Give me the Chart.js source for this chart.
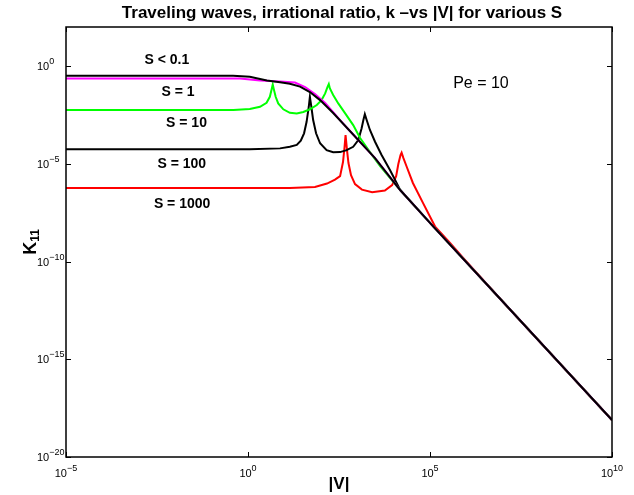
<!DOCTYPE html>
<html>
<head>
<meta charset="utf-8">
<title>K11 vs |V|</title>
<script src="https://cdn.jsdelivr.net/npm/chart.js"></script>
<style>
    body { margin: 0; background: #fff; }
    .chart-box { position: relative; width: 634px; height: 495px; }
</style>
</head>
<body>
<div class="chart-box">
    <canvas id="kChart"></canvas>
</div>
<script>
    // Values, kept as log10(|V|) and log10(K11)
    const tickExpX = [-5, 0, 5, 10];
    const tickExpY = [-20, -15, -10, -5, 0];

    // S < 0.1
    const vS01 = [-5, -1.32, -0.41, 0.05, 0.52, 0.88, 1.15, 1.43, 1.70, 1.98, 2.34, 2.80, 3.49, 4.18, 5.05, 6.92, 10];
    const kS01 = [-0.49, -0.49, -0.49, -0.55, -0.74, -0.83, -0.90, -1.05, -1.33, -1.74, -2.40, -3.32, -4.71, -6.34, -8.12, -11.89, -18.11];

    // S = 1
    const vS1 = [-5, -0.22, 0.33, 0.88, 1.29, 1.57, 1.84, 2.12, 2.53, 2.80, 3.49, 4.18, 5.05, 6.92, 10];
    const kS1 = [-0.64, -0.64, -0.74, -0.79, -0.84, -1.07, -1.43, -1.89, -2.76, -3.32, -4.71, -6.34, -8.12, -11.89, -18.11];

    // S = 10
    const vS10 = [-5, -0.40, 0.05, 0.33, 0.51, 0.60, 0.65, 0.68, 0.71, 0.76, 0.83, 0.97, 1.15, 1.34, 1.52, 1.70, 1.89, 2.02, 2.12, 2.18, 2.22,
        2.25, 2.34, 2.48, 2.67, 2.89, 3.08, 3.35, 3.63, 4.18, 5.05, 6.92, 10];
    const kS10 = [-2.25, -2.25, -2.20, -2.08, -1.88, -1.57, -1.19, -0.94, -1.19, -1.57, -1.91, -2.21, -2.39, -2.42, -2.35, -2.21, -1.99, -1.74, -1.40, -1.09, -0.92,
        -1.14, -1.48, -1.91, -2.42, -3.02, -3.68, -4.40, -5.12, -6.34, -8.12, -11.89, -18.11];

    // S = 100
    const vS100 = [-5, 0.05, 0.88, 1.15, 1.34, 1.45, 1.54, 1.61, 1.67, 1.70, 1.74, 1.79, 1.87, 1.98, 2.16, 2.34, 2.53, 2.71, 2.89, 3.03,
        3.12, 3.17, 3.21, 3.26, 3.35, 3.49, 3.67, 3.90, 4.09, 4.18, 5.05, 6.92, 10];
    const kS100 = [-4.26, -4.26, -4.21, -4.13, -4.03, -3.82, -3.44, -2.85, -2.08, -1.57, -2.08, -2.76, -3.44, -3.95, -4.30, -4.41, -4.40, -4.30, -4.13, -3.79,
        -3.19, -2.76, -2.46, -2.76, -3.27, -3.87, -4.55, -5.32, -6.00, -6.34, -8.12, -11.89, -18.11];

    // S = 1000
    const vS1000 = [-5, 1.15, 1.84, 2.17, 2.39, 2.53, 2.61, 2.65, 2.68, 2.72, 2.76, 2.83, 2.94, 3.13, 3.41, 3.76, 3.96, 4.07, 4.13, 4.19,
        4.22, 4.27, 4.36, 4.53, 4.81, 5.14, 5.55, 5.96, 6.92, 10];
    const kS1000 = [-6.24, -6.24, -6.19, -6.01, -5.81, -5.63, -4.91, -4.19, -3.53, -4.30, -4.96, -5.58, -6.04, -6.32, -6.45, -6.37, -6.09, -5.63, -5.01, -4.55,
        -4.43, -4.71, -5.15, -5.98, -7.01, -8.21, -9.05, -9.92, -11.89, -18.11];

    // text labels placed in data coordinates (log10 V, log10 K)
    const notes = [
        { text: 'S < 0.1', v: -2.23, k: 0.31, bold: true },
        { text: 'S = 1', v: -1.92, k: -1.33, bold: true },
        { text: 'S = 10', v: -1.69, k: -2.90, bold: true },
        { text: 'S = 100', v: -1.82, k: -5.01, bold: true },
        { text: 'S = 1000', v: -1.81, k: -7.06, bold: true },
        { text: 'Pe = 10', v: 6.40, k: -0.87, bold: false }
    ];

    const FONT = '"Liberation Sans", Arial, Helvetica, sans-serif';

    const series = [
        { label: 'S < 0.1', v: vS01, k: kS01, color: '#000000' },
        { label: 'S = 1', v: vS1, k: kS1, color: '#ff00ff' },
        { label: 'S = 10', v: vS10, k: kS10, color: '#00ff00' },
        { label: 'S = 100', v: vS100, k: kS100, color: '#000000' },
        { label: 'S = 1000', v: vS1000, k: kS1000, color: '#ff0000' }
    ];

    const datasets = series.map(s => ({
        label: s.label,
        data: s.v.map((v, i) => ({ x: Math.pow(10, v), y: Math.pow(10, s.k[i]) })),
        borderColor: s.color,
        borderWidth: 2,
        pointRadius: 0,
        tension: 0,
        fill: false
    }));

    // "10" with a raised exponent; x is the left edge or the centre
    function powerLabel(ctx, exp, x, y, align) {
        const sup = exp < 0 ? '\u2212' + Math.abs(exp) : String(exp);
        ctx.font = '11px ' + FONT;
        const wb = ctx.measureText('10').width;
        ctx.font = '9px ' + FONT;
        const ws = ctx.measureText(sup).width;
        const left = align === 'center' ? x - (wb + ws) / 2 : x;
        ctx.textAlign = 'left';
        ctx.textBaseline = 'alphabetic';
        ctx.font = '11px ' + FONT;
        ctx.fillText('10', left, y);
        ctx.font = '9px ' + FONT;
        ctx.fillText(sup, left + wb, y - 6);
    }

    const framePlugin = {
        id: 'frame',
        afterDraw(chart) {
            const { ctx, chartArea: a } = chart;
            const xs = chart.scales.x, ys = chart.scales.y;
            ctx.save();
            ctx.fillStyle = '#000';
            ctx.strokeStyle = '#000';

            // box
            ctx.lineWidth = 1.5;
            ctx.strokeRect(a.left, a.top, a.right - a.left, a.bottom - a.top);

            // inward ticks on all sides
            ctx.lineWidth = 1;
            ctx.beginPath();
            tickExpX.forEach(e => {
                const px = Math.round(xs.getPixelForValue(Math.pow(10, e))) + 0.5;
                ctx.moveTo(px, a.bottom); ctx.lineTo(px, a.bottom - 5);
                ctx.moveTo(px, a.top); ctx.lineTo(px, a.top + 5);
            });
            tickExpY.forEach(e => {
                const py = Math.round(ys.getPixelForValue(Math.pow(10, e))) + 0.5;
                ctx.moveTo(a.left, py); ctx.lineTo(a.left + 5, py);
                ctx.moveTo(a.right, py); ctx.lineTo(a.right - 5, py);
            });
            ctx.stroke();

            // tick labels
            tickExpX.forEach(e => {
                powerLabel(ctx, e, xs.getPixelForValue(Math.pow(10, e)), a.bottom + 20, 'center');
            });
            tickExpY.forEach(e => {
                powerLabel(ctx, e, a.left - 29, ys.getPixelForValue(Math.pow(10, e)) + 4, 'left');
            });

            // title
            ctx.textAlign = 'center';
            ctx.textBaseline = 'alphabetic';
            ctx.font = 'bold 17px ' + FONT;
            ctx.fillText('Traveling waves, irrational ratio, k \u2013vs |V| for various S', (a.left + a.right) / 2 + 3, 18);

            // x axis title
            ctx.font = 'bold 17px ' + FONT;
            ctx.fillText('|V|', (a.left + a.right) / 2, 489);

            // y axis title, K with subscript 11
            ctx.save();
            ctx.translate(29, (a.top + a.bottom) / 2);
            ctx.rotate(-Math.PI / 2);
            ctx.textAlign = 'left';
            ctx.font = 'bold 18px ' + FONT;
            const wk = ctx.measureText('K').width;
            ctx.font = 'bold 12px ' + FONT;
            const w11 = ctx.measureText('11').width;
            const start = -(wk + w11) / 2;
            ctx.font = 'bold 18px ' + FONT;
            ctx.fillText('K', start, 7);
            ctx.font = 'bold 12px ' + FONT;
            ctx.fillText('11', start + wk, 10);
            ctx.restore();

            // annotations
            ctx.textAlign = 'center';
            ctx.textBaseline = 'middle';
            notes.forEach(n => {
                ctx.font = (n.bold ? 'bold 14px ' : '16px ') + FONT;
                ctx.fillText(n.text, xs.getPixelForValue(Math.pow(10, n.v)), ys.getPixelForValue(Math.pow(10, n.k)));
            });
            ctx.restore();
        }
    };

    const config = {
        type: 'line',
        data: { datasets: datasets },
        options: {
            responsive: true,
            maintainAspectRatio: false,
            animation: false,
            layout: { padding: { left: 66, right: 22, top: 27, bottom: 38 } },
            scales: {
                x: { type: 'logarithmic', min: 1e-5, max: 1e10, display: false },
                y: { type: 'logarithmic', min: 1e-20, max: 1e2, display: false }
            },
            plugins: {
                legend: { display: false },
                tooltip: { enabled: false }
            }
        },
        plugins: [framePlugin]
    };

    const kChart = new Chart(document.getElementById('kChart').getContext('2d'), config);
</script>
</body>
</html>
